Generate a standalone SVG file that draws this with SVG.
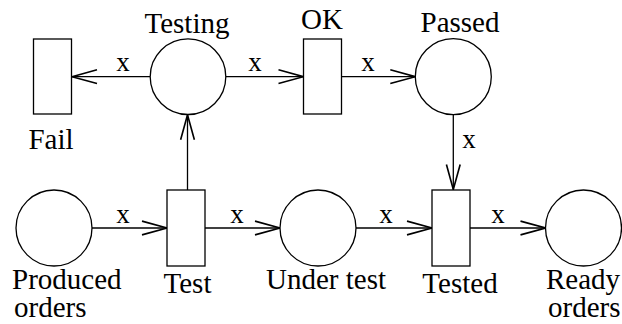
<svg xmlns="http://www.w3.org/2000/svg" width="622" height="324" viewBox="0 0 622 324">
<style>
.shape{fill:#fff;stroke:#000;stroke-width:1.3}
.edge{fill:none;stroke:#000;stroke-width:1.3}
text{font-family:'Liberation Serif','DejaVu Serif',serif;fill:#000}
.lbl{font-size:29px}
.x{font-size:27px;text-anchor:middle}
.c{text-anchor:middle}
</style>
<defs>
<marker id="arr" markerUnits="userSpaceOnUse" markerWidth="30" markerHeight="20" viewBox="-22 -8 24 16" refX="0" refY="0" orient="auto">
<path d="M-20,-5.5 L0,0 L-20,5.5" fill="none" stroke="#000" stroke-width="1.3"/>
</marker>
</defs>
<g id="connectors">
<line class="edge" x1="150" y1="76.7" x2="72" y2="76.7" marker-end="url(#arr)"/>
<line class="edge" x1="226" y1="76.7" x2="303.5" y2="76.7" marker-end="url(#arr)"/>
<line class="edge" x1="341.5" y1="76.7" x2="415.3" y2="76.7" marker-end="url(#arr)"/>
<line class="edge" x1="453.3" y1="114.7" x2="453.3" y2="189.5" marker-end="url(#arr)"/>
<line class="edge" x1="187.5" y1="190" x2="187.5" y2="114.8" marker-end="url(#arr)"/>
<line class="edge" x1="92" y1="228" x2="167" y2="228" marker-end="url(#arr)"/>
<line class="edge" x1="205" y1="228" x2="280" y2="228" marker-end="url(#arr)"/>
<line class="edge" x1="356" y1="228" x2="432" y2="228" marker-end="url(#arr)"/>
<line class="edge" x1="470" y1="228" x2="545.5" y2="228" marker-end="url(#arr)"/>
<text class="x" font-family="Liberation Serif, DejaVu Serif, serif" x="123" y="71">x</text>
<text class="x" font-family="Liberation Serif, DejaVu Serif, serif" x="255" y="71">x</text>
<text class="x" font-family="Liberation Serif, DejaVu Serif, serif" x="368" y="71">x</text>
<text class="x" font-family="Liberation Serif, DejaVu Serif, serif" x="469" y="148">x</text>
<text class="x" font-family="Liberation Serif, DejaVu Serif, serif" x="123" y="223">x</text>
<text class="x" font-family="Liberation Serif, DejaVu Serif, serif" x="237" y="223">x</text>
<text class="x" font-family="Liberation Serif, DejaVu Serif, serif" x="386" y="223">x</text>
<text class="x" font-family="Liberation Serif, DejaVu Serif, serif" x="498" y="223">x</text>
</g>
<g id="fail">
<rect class="shape" x="33.5" y="39" width="38" height="75"/>
<text class="lbl c" font-family="Liberation Serif, DejaVu Serif, serif" x="51" y="149">Fail</text>
</g>
<g id="testing">
<circle class="shape" cx="188" cy="76.7" r="37.8"/>
<text class="lbl c" font-family="Liberation Serif, DejaVu Serif, serif" x="187" y="33">Testing</text>
</g>
<g id="ok">
<rect class="shape" x="303.5" y="39" width="38" height="75"/>
<text class="lbl c" font-family="Liberation Serif, DejaVu Serif, serif" x="322" y="29">OK</text>
</g>
<g id="passed">
<circle class="shape" cx="453.3" cy="76.7" r="38"/>
<text class="lbl c" font-family="Liberation Serif, DejaVu Serif, serif" x="460" y="32">Passed</text>
</g>
<g id="produced">
<circle class="shape" cx="54" cy="228" r="38"/>
<text class="lbl" font-family="Liberation Serif, DejaVu Serif, serif" x="12" y="289">Produced</text>
<text class="lbl" font-family="Liberation Serif, DejaVu Serif, serif" x="14" y="317">orders</text>
</g>
<g id="test">
<rect class="shape" x="167" y="190" width="38" height="76"/>
<text class="lbl c" font-family="Liberation Serif, DejaVu Serif, serif" x="187.5" y="293">Test</text>
</g>
<g id="undertest">
<circle class="shape" cx="318" cy="228" r="38"/>
<text class="lbl c" font-family="Liberation Serif, DejaVu Serif, serif" x="326" y="289">Under test</text>
</g>
<g id="tested">
<rect class="shape" x="432" y="190" width="38" height="76"/>
<text class="lbl c" font-family="Liberation Serif, DejaVu Serif, serif" x="460" y="293">Tested</text>
</g>
<g id="ready">
<circle class="shape" cx="583.5" cy="228" r="38"/>
<text class="lbl" font-family="Liberation Serif, DejaVu Serif, serif" x="546" y="289">Ready</text>
<text class="lbl" font-family="Liberation Serif, DejaVu Serif, serif" x="548" y="317">orders</text>
</g>
</svg>
